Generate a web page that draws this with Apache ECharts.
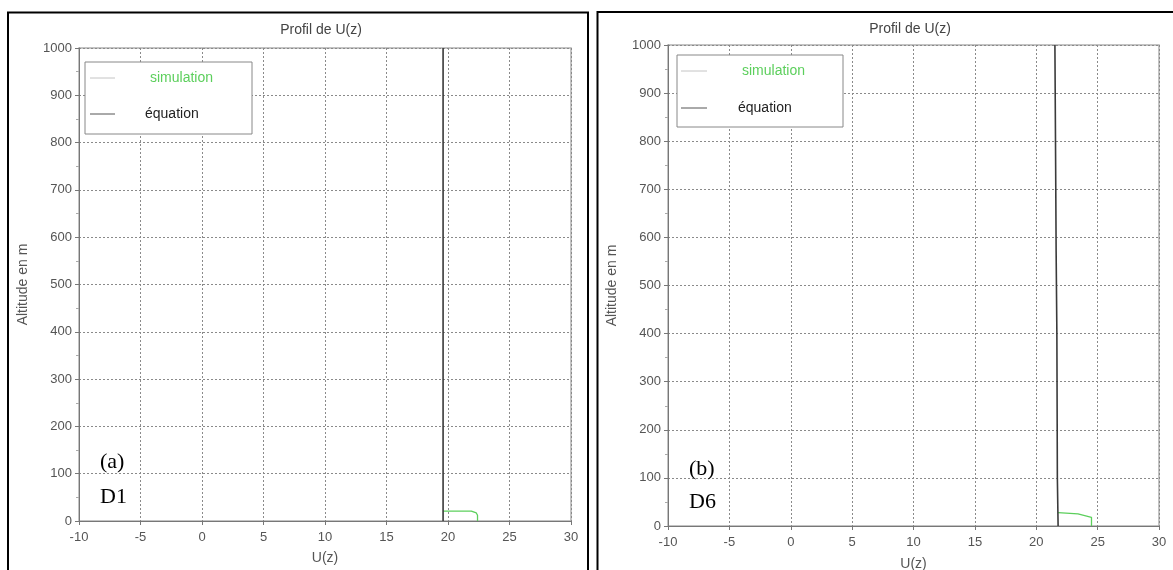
<!DOCTYPE html>
<html>
<head>
<meta charset="utf-8">
<style>
  html, body { margin: 0; padding: 0; background: #fff; }
  #chart { width: 1173px; height: 570px; }
</style>
<script src="https://cdn.jsdelivr.net/npm/echarts@6.0.0/dist/echarts.min.js"></script>
</head>
<body>
<div id="chart"></div>
<script>
// ---- data ----
const chartTitle = 'Profil de U(z)';
const xAxisName = 'U(z)';
const yAxisName = 'Altitude en m';
const legendNames = ['simulation', 'équation'];
const panelLabels = [['(a)', 'D1'], ['(b)', 'D6']];

// panel (a) D1
const simA_U = [22.4, 22.4, 22.3, 21.9, 19.6];
const simA_Z = [0, 12, 17, 21, 21];
const eqA_U = [19.6, 19.6];
const eqA_Z = [0, 1000];

// panel (b) D6
const simB_U = [24.5, 24.5, 24.4, 23.4, 21.78];
const simB_Z = [0, 18, 20, 25, 28];
const eqB_U = [21.78, 21.72, 21.68, 21.62, 21.58, 21.52];
const eqB_Z = [0, 100, 400, 570, 750, 1000];

const xMin = -10, xMax = 30, xStep = 5;
const yMin = 0, yMax = 1000, yStep = 100;

function pairs(u, z) { return u.map((v, i) => [v, z[i]]); }

const FONT = 'Liberation Sans, Arial, sans-serif';
const SIM_COLOR = '#5ccf5c';
const EQ_COLOR = '#3a3a3a';

const grids = [
  { left: 79, top: 48, width: 492, height: 473 },
  { left: 668, top: 45, width: 491, height: 481 }
];
const xNameGaps = [30, 31];

function xAxisFor(i) {
  return {
    gridIndex: i, type: 'value', min: xMin, max: xMax, interval: xStep,
    name: xAxisName, nameLocation: 'middle', nameGap: xNameGaps[i],
    nameTextStyle: { fontFamily: FONT, fontSize: 14, color: '#555' },
    axisLine: { show: true, onZero: false, lineStyle: { color: '#777', width: 1 } },
    axisTick: { show: true, length: 4, lineStyle: { color: '#777' } },
    axisLabel: { fontFamily: FONT, fontSize: 13, color: '#555', margin: 10, formatter: v => String(v) },
    splitLine: { show: true, lineStyle: { color: '#8a8a8a', type: [2, 2], width: 1 } }
  };
}
function yAxisFor(i) {
  return {
    gridIndex: i, type: 'value', min: yMin, max: yMax, interval: yStep,
    name: yAxisName, nameLocation: 'middle', nameGap: 49,
    nameTextStyle: { fontFamily: FONT, fontSize: 14, color: '#555' },
    axisLine: { show: true, onZero: false, lineStyle: { color: '#777', width: 1 } },
    axisTick: { show: true, length: 4, lineStyle: { color: '#777' } },
    minorTick: { show: true, splitNumber: 2, length: 3, lineStyle: { color: '#aaa' } },
    axisLabel: { fontFamily: FONT, fontSize: 13, color: '#555', margin: 7, formatter: v => String(v) },
    splitLine: { show: true, lineStyle: { color: '#8a8a8a', type: [2, 2], width: 1 } }
  };
}

function lineSeries(name, data, gi, color, width, z) {
  return {
    name: name, type: 'line', xAxisIndex: gi, yAxisIndex: gi,
    data: data, showSymbol: false, symbol: 'none', smooth: false,
    lineStyle: { color: color, width: width }, z: z, animation: false
  };
}

function legendGraphic(box, lineX0, lineX1, simY, eqY, simTextX, eqTextX) {
  return [
    { type: 'rect', shape: box, style: { fill: '#fff', stroke: '#888', lineWidth: 1 }, z: 50 },
    { type: 'line', shape: { x1: lineX0, y1: simY, x2: lineX1, y2: simY }, style: { stroke: '#c4c4c4', lineWidth: 1 }, z: 51 },
    { type: 'text', x: simTextX, y: simY, style: { text: legendNames[0], fill: SIM_COLOR, font: '14px ' + FONT, verticalAlign: 'middle' }, z: 51 },
    { type: 'line', shape: { x1: lineX0, y1: eqY, x2: lineX1, y2: eqY }, style: { stroke: '#555', lineWidth: 1 }, z: 51 },
    { type: 'text', x: eqTextX, y: eqY, style: { text: legendNames[1], fill: '#222', font: '14px ' + FONT, verticalAlign: 'middle' }, z: 51 }
  ];
}

const chart = echarts.init(document.getElementById('chart'), null, { renderer: 'canvas' });
chart.setOption({
  animation: false,
  backgroundColor: '#fff',
  grid: grids.map(g => Object.assign({ show: true, borderColor: '#b0b0b0', borderWidth: 1.5, backgroundColor: 'transparent', containLabel: false, outerBoundsMode: 'none' }, g)),
  xAxis: [xAxisFor(0), xAxisFor(1)],
  yAxis: [yAxisFor(0), yAxisFor(1)],
  series: [
    lineSeries(legendNames[0], pairs(simA_U, simA_Z), 0, SIM_COLOR, 1.3, 3),
    lineSeries(legendNames[1], pairs(eqA_U, eqA_Z), 0, EQ_COLOR, 1.6, 4),
    lineSeries(legendNames[0], pairs(simB_U, simB_Z), 1, SIM_COLOR, 1.3, 3),
    lineSeries(legendNames[1], pairs(eqB_U, eqB_Z), 1, EQ_COLOR, 1.6, 4)
  ],
  graphic: [
    // panel frames
    { type: 'rect', shape: { x: 8, y: 12.5, width: 580, height: 600 }, style: { fill: 'none', stroke: '#000', lineWidth: 2 }, z: 100, silent: true },
    { type: 'rect', shape: { x: 597.5, y: 12, width: 600, height: 600 }, style: { fill: 'none', stroke: '#000', lineWidth: 2 }, z: 100, silent: true },
    // titles
    { type: 'text', x: 321, y: 30, style: { text: chartTitle, fill: '#444', font: '14px ' + FONT, align: 'center', verticalAlign: 'middle' } },
    { type: 'text', x: 910, y: 29, style: { text: chartTitle, fill: '#444', font: '14px ' + FONT, align: 'center', verticalAlign: 'middle' } },
    // panel labels
    { type: 'text', x: 100, y: 462, style: { text: panelLabels[0][0], fill: '#000', font: '22px Liberation Serif, Times New Roman, serif', verticalAlign: 'middle' }, z: 60 },
    { type: 'text', x: 100, y: 497, style: { text: panelLabels[0][1], fill: '#000', font: '22px Liberation Serif, Times New Roman, serif', verticalAlign: 'middle' }, z: 60 },
    { type: 'text', x: 689, y: 469, style: { text: panelLabels[1][0], fill: '#000', font: '22px Liberation Serif, Times New Roman, serif', verticalAlign: 'middle' }, z: 60 },
    { type: 'text', x: 689, y: 502, style: { text: panelLabels[1][1], fill: '#000', font: '22px Liberation Serif, Times New Roman, serif', verticalAlign: 'middle' }, z: 60 }
  ]
    .concat(legendGraphic({ x: 85, y: 62, width: 167, height: 72 }, 90, 115, 78, 114, 150, 145))
    .concat(legendGraphic({ x: 677, y: 55, width: 166, height: 72 }, 681, 707, 71, 108, 742, 738))
});
</script>
</body>
</html>
